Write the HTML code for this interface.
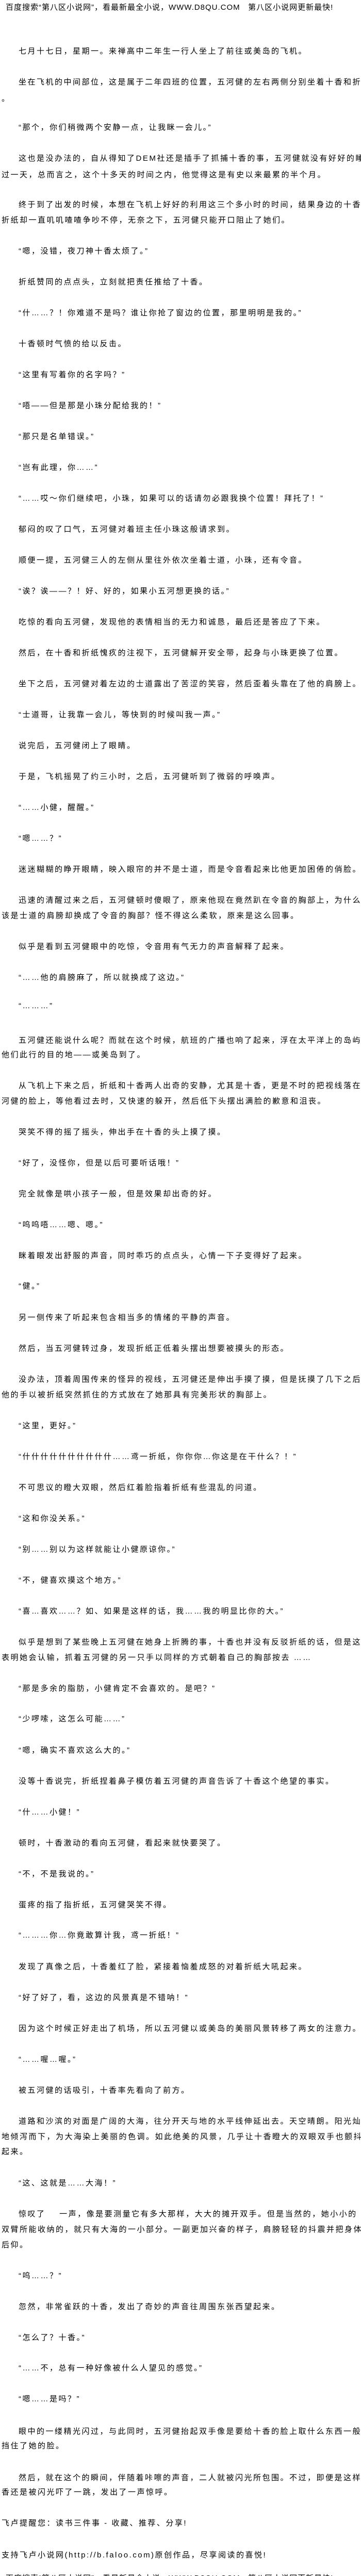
<!DOCTYPE html>
<html><head><meta charset="utf-8">
<style>
html,body{margin:0;padding:0;background:#fff;}
#p{position:relative;width:700px;height:5030px;overflow:hidden;
font-family:"Liberation Sans","Noto Sans CJK SC",sans-serif;font-size:15px;letter-spacing:2.5px;color:#000;}
#p div{position:absolute;left:3px;line-height:30px;white-space:nowrap;}
#p .i{left:36px;}
#p .h{left:11px;letter-spacing:1px;}
</style></head><body><div id="p">
<div class="h" style="top:0px">百度搜索“第八区小说网”，看最新最全小说，WWW.D8QU.COM&nbsp;&nbsp; 第八区小说网更新最快!</div>
<div class="i" style="top:85px">七月十七日，星期一。来禅高中二年生一行人坐上了前往或美岛的飞机。</div>
<div class="i" style="top:145px">坐在飞机的中间部位，这是属于二年四班的位置，五河健的左右两侧分别坐着十香和折纸</div>
<div style="top:177px">。</div>
<div class="i" style="top:233px">“那个，你们稍微两个安静一点，让我眯一会儿。”</div>
<div class="i" style="top:293px">这也是没办法的，自从得知了DEM社还是插手了抓捕十香的事，五河健就没有好好的睡</div>
<div style="top:325px">过一天，总而言之，这个十多天的时间之内，他觉得这是有史以来最累的半个月。</div>
<div class="i" style="top:383px">终于到了出发的时候，本想在飞机上好好的利用这三个多小时的时间，结果身边的十香和</div>
<div style="top:413px">折纸却一直叽叽喳喳争吵不停，无奈之下，五河健只能开口阻止了她们。</div>
<div class="i" style="top:473px">“嗯，没错，夜刀神十香太烦了。”</div>
<div class="i" style="top:533px">折纸赞同的点点头，立刻就把责任推给了十香。</div>
<div class="i" style="top:593px">“什……？！你难道不是吗？谁让你抢了窗边的位置，那里明明是我的。”</div>
<div class="i" style="top:653px">十香顿时气愤的给以反击。</div>
<div class="i" style="top:713px">“这里有写着你的名字吗？”</div>
<div class="i" style="top:773px">“唔——但是那是小珠分配给我的！”</div>
<div class="i" style="top:833px">“那只是名单错误。”</div>
<div class="i" style="top:893px">“岂有此理，你……”</div>
<div class="i" style="top:953px">“……哎～你们继续吧，小珠，如果可以的话请勿必跟我换个位置！拜托了！”</div>
<div class="i" style="top:1013px">郁闷的叹了口气，五河健对着班主任小珠这般请求到。</div>
<div class="i" style="top:1073px">顺便一提，五河健三人的左侧从里往外依次坐着士道，小珠，还有令音。</div>
<div class="i" style="top:1133px">“诶？诶——？！好、好的，如果小五河想更换的话。”</div>
<div class="i" style="top:1193px">吃惊的看向五河健，发现他的表情相当的无力和诚恳，最后还是答应了下来。</div>
<div class="i" style="top:1253px">然后，在十香和折纸愧疚的注视下，五河健解开安全带，起身与小珠更换了位置。</div>
<div class="i" style="top:1313px">坐下之后，五河健对着左边的士道露出了苦涩的笑容，然后歪着头靠在了他的肩膀上。</div>
<div class="i" style="top:1373px">“士道哥，让我靠一会儿，等快到的时候叫我一声。”</div>
<div class="i" style="top:1433px">说完后，五河健闭上了眼睛。</div>
<div class="i" style="top:1493px">于是，飞机摇晃了约三小时，之后，五河健听到了微弱的呼唤声。</div>
<div class="i" style="top:1553px">“……小健，醒醒。”</div>
<div class="i" style="top:1613px">“嗯……？”</div>
<div class="i" style="top:1673px">迷迷糊糊的睁开眼睛，映入眼帘的并不是士道，而是令音看起来比他更加困倦的俏脸。</div>
<div class="i" style="top:1733px">迅速的清醒过来之后，五河健顿时傻眼了，原来他现在竟然趴在令音的胸部上，为什么本</div>
<div style="top:1763px">该是士道的肩膀却换成了令音的胸部？怪不得这么柔软，原来是这么回事。</div>
<div class="i" style="top:1823px">似乎是看到五河健眼中的吃惊，令音用有气无力的声音解释了起来。</div>
<div class="i" style="top:1883px">“……他的肩膀麻了，所以就换成了这边。”</div>
<div class="i" style="top:1938px">“………”</div>
<div class="i" style="top:2005px">五河健还能说什么呢？而就在这个时候，航班的广播也响了起来，浮在太平洋上的岛屿，</div>
<div style="top:2033px">他们此行的目的地——或美岛到了。</div>
<div class="i" style="top:2093px">从飞机上下来之后，折纸和十香两人出奇的安静，尤其是十香，更是不时的把视线落在五</div>
<div style="top:2123px">河健的脸上，等他看过去时，又快速的躲开，然后低下头摆出满脸的歉意和沮丧。</div>
<div class="i" style="top:2183px">哭笑不得的摇了摇头，伸出手在十香的头上摸了摸。</div>
<div class="i" style="top:2243px">“好了，没怪你，但是以后可要听话哦！”</div>
<div class="i" style="top:2303px">完全就像是哄小孩子一般，但是效果却出奇的好。</div>
<div class="i" style="top:2363px">“呜呜唔……嗯、嗯。”</div>
<div class="i" style="top:2423px">眯着眼发出舒服的声音，同时乖巧的点点头，心情一下子变得好了起来。</div>
<div class="i" style="top:2482px">“健。”</div>
<div class="i" style="top:2543px">另一侧传来了听起来包含相当多的情绪的平静的声音。</div>
<div class="i" style="top:2603px">然后，当五河健转过身，发现折纸正低着头摆出想要被摸头的形态。</div>
<div class="i" style="top:2663px">没办法，顶着周围传来的怪异的视线，五河健还是伸出手摸了摸，但是抚摸了几下之后，</div>
<div style="top:2693px">他的手以被折纸突然抓住的方式放在了她那具有完美形状的胸部上。</div>
<div class="i" style="top:2753px">“这里，更好。”</div>
<div class="i" style="top:2813px">“什什什什什什什什什什……鸢一折纸，你你你…你这是在干什么？！”</div>
<div class="i" style="top:2873px">不可思议的瞪大双眼，然后红着脸指着折纸有些混乱的问道。</div>
<div class="i" style="top:2933px">“这和你没关系。”</div>
<div class="i" style="top:2993px">“别……别以为这样就能让小健原谅你。”</div>
<div class="i" style="top:3053px">“不，健喜欢摸这个地方。”</div>
<div class="i" style="top:3113px">“喜…喜欢……？如、如果是这样的话，我……我的明显比你的大。”</div>
<div class="i" style="top:3173px">似乎是想到了某些晚上五河健在她身上折腾的事，十香也并没有反驳折纸的话，但是这不</div>
<div style="top:3203px">表明她会认输，抓着五河健的另一只手以同样的方式朝着自己的胸部按去 ……</div>
<div class="i" style="top:3263px">“那是多余的脂肪，小健肯定不会喜欢的。是吧？”</div>
<div class="i" style="top:3322px">“少啰嗦，这怎么可能……”</div>
<div class="i" style="top:3383px">“嗯，确实不喜欢这么大的。”</div>
<div class="i" style="top:3443px">没等十香说完，折纸捏着鼻子模仿着五河健的声音告诉了十香这个绝望的事实。</div>
<div class="i" style="top:3503px">“什……小健！”</div>
<div class="i" style="top:3563px">顿时，十香激动的看向五河健，看起来就快要哭了。</div>
<div class="i" style="top:3623px">“不，不是我说的。”</div>
<div class="i" style="top:3683px">蛋疼的指了指折纸，五河健哭笑不得。</div>
<div class="i" style="top:3742px">“………你…你竟敢算计我，鸢一折纸！”</div>
<div class="i" style="top:3803px">发现了真像之后，十香羞红了脸，紧接着恼羞成怒的对着折纸大吼起来。</div>
<div class="i" style="top:3863px">“好了好了，看，这边的风景真是不错呐！”</div>
<div class="i" style="top:3923px">因为这个时候正好走出了机场，所以五河健以或美岛的美丽风景转移了两女的注意力。</div>
<div class="i" style="top:3983px">“……喔…喔。”</div>
<div class="i" style="top:4043px">被五河健的话吸引，十香率先看向了前方。</div>
<div class="i" style="top:4103px">道路和沙滨的对面是广阔的大海，往分开天与地的水平线伸延出去。天空晴朗。阳光灿烂</div>
<div style="top:4133px">地倾泻而下，为大海染上美丽的色调。如此绝美的风景，几乎让十香瞪大的双眼双手也颤抖了</div>
<div style="top:4162px">起来。</div>
<div class="i" style="top:4223px">“这、这就是……大海！”</div>
<div class="i" style="top:4283px">惊叹了&nbsp;&nbsp;&nbsp;&nbsp;一声，像是要测量它有多大那样，大大的摊开双手。但是当然的，她小小的</div>
<div style="top:4313px">双臂所能收纳的，就只有大海的一小部分。一副更加兴奋的样子，肩膀轻轻的抖震并把身体向</div>
<div style="top:4343px">后仰。</div>
<div class="i" style="top:4403px">“呜……？”</div>
<div class="i" style="top:4463px">忽然，非常雀跃的十香，发出了奇妙的声音往周围东张西望起来。</div>
<div class="i" style="top:4523px">“怎么了？十香。”</div>
<div class="i" style="top:4582px">“……不，总有一种好像被什么人望见的感觉。”</div>
<div class="i" style="top:4642px">“嗯……是吗？”</div>
<div class="i" style="top:4705px">眼中的一缕精光闪过，与此同时，五河健抬起双手像是要给十香的脸上取什么东西一般的</div>
<div style="top:4733px">挡住了她的脸。</div>
<div class="i" style="top:4795px">然后，就在这个的瞬间，伴随着咔嚓的声音，二人就被闪光所包围。不过，即便是这样十</div>
<div style="top:4823px">香还是被闪光吓了一跳，发出了一声惊呼。</div>
<div style="top:4883px">飞卢提醒您：读书三件事 - 收藏、推荐、分享!</div>
<div style="top:4945px">支持飞卢小说网(http://b.faloo.com)原创作品，尽享阅读的喜悦!</div>
<div class="h" style="top:4990px">百度搜索“第八区小说网”，看最新最全小说，WWW.D8QU.COM&nbsp;&nbsp; 第八区小说网更新最快!</div>
</div></body></html>
